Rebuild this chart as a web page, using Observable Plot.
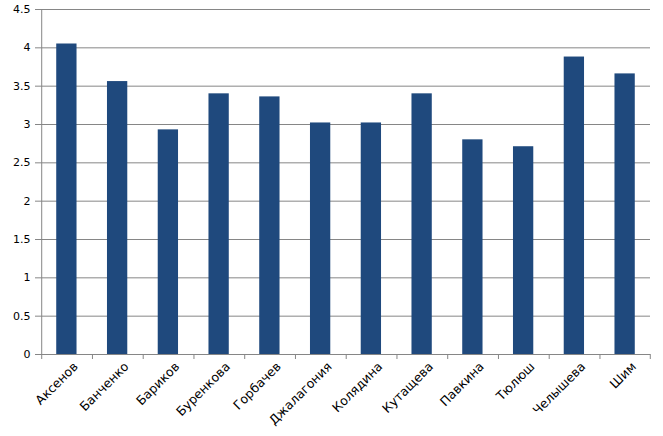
<!DOCTYPE html>
<html><head><meta charset="utf-8">
<script src="https://cdn.jsdelivr.net/npm/d3@7"></script>
<script src="https://cdn.jsdelivr.net/npm/@observablehq/plot@0.6"></script>
<style>body{margin:0;background:#fff}</style>
</head><body><div id="chart"></div>
<script>
const names = ["Аксенов","Банченко","Бариков","Буренкова","Горбачев","Джалагония","Колядина","Кутащева","Павкина","Тюлюш","Челышева","Шим"];
const values = [4.05,3.56,2.93,3.40,3.36,3.02,3.02,3.40,2.80,2.71,3.88,3.66];
const yTicks = [0,0.5,1,1.5,2,2.5,3,3.5,4,4.5];

const W = 663, H = 436, mL = 41, mR = 13, mT = 9, mB = 82;
const data = names.map((n,i)=>({name:n, value:values[i]}));
const xs = Plot.scale({x:{type:"band", domain:names, range:[mL, W-mR], round:false}});
const step = xs.step;
const font = "DejaVu Sans, Verdana, sans-serif";

const chart = Plot.plot({
  width: W, height: H,
  marginLeft: mL, marginRight: mR, marginTop: mT, marginBottom: mB,
  style: {fontFamily: font, fontSize: "11px", color: "#000", background: "#fff"},
  x: {type:"band", domain: names, paddingInner: 0.6, paddingOuter: 0.3, align: 0.5, round: false},
  y: {domain: [0, 4.5], ticks: yTicks},
  marks: [
    Plot.ruleY(yTicks.filter(d=>d>0), {stroke:"#868686", strokeWidth:1, strokeOpacity:1}),
    Plot.barY(data, {x:"name", y:"value", fill:"#1F497D"}),
    Plot.ruleY([0], {stroke:"#868686", strokeWidth:1}),
    Plot.ruleX([names[0]], {dx: -step/2, stroke:"#868686", y1:0, y2:4.5}),
    Plot.ruleX(names, {x:d=>d, dx: -step/2, stroke:"#868686", y1:0, y2:0, insetBottom:-5}),
    Plot.ruleX([names[names.length-1]], {dx: step/2, stroke:"#868686", y1:0, y2:0, insetBottom:-5}),
    Plot.axisY({ticks: yTicks, tickSize: 6, tickPadding: 5, stroke:"#868686", tickFormat: d=>String(d), fill:"#000", fontSize: 11, label:null}),
    Plot.axisX({tickSize: 0, tickPadding: 10, tickRotate: -45, label:null, fill:"#000", fontSize: 12.5, dx: 9})
  ]
});
document.getElementById("chart").appendChild(chart);
</script>
</body></html>
